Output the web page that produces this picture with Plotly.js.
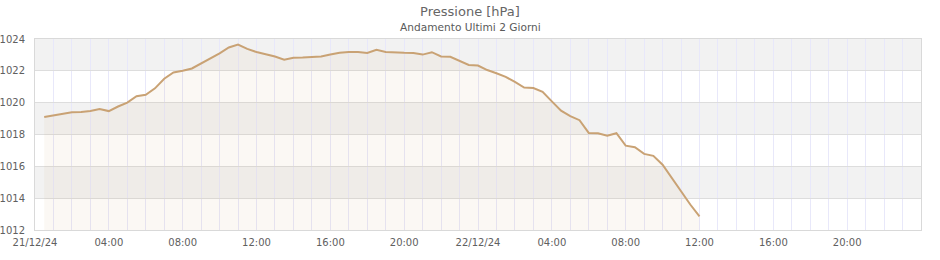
<!DOCTYPE html>
<html>
<head>
<meta charset="utf-8">
<script src="https://cdn.plot.ly/plotly-3.0.1.min.js"></script>
<style>html,body{margin:0;padding:0;background:#fff}#chart{width:940px;height:260px}</style>
</head>
<body>
<div id="chart"></div>
<script>
const times = [
 "2024-12-21 00:30","2024-12-21 01:00","2024-12-21 01:30","2024-12-21 02:00","2024-12-21 02:30","2024-12-21 03:00",
 "2024-12-21 03:30","2024-12-21 04:00","2024-12-21 04:30","2024-12-21 05:00","2024-12-21 05:30","2024-12-21 06:00",
 "2024-12-21 06:30","2024-12-21 07:00","2024-12-21 07:30","2024-12-21 08:00","2024-12-21 08:30","2024-12-21 09:00",
 "2024-12-21 09:30","2024-12-21 10:00","2024-12-21 10:30","2024-12-21 11:00","2024-12-21 11:30","2024-12-21 12:00",
 "2024-12-21 12:30","2024-12-21 13:00","2024-12-21 13:30","2024-12-21 14:00","2024-12-21 14:30","2024-12-21 15:00",
 "2024-12-21 15:30","2024-12-21 16:00","2024-12-21 16:30","2024-12-21 17:00","2024-12-21 17:30","2024-12-21 18:00",
 "2024-12-21 18:30","2024-12-21 19:00","2024-12-21 19:30","2024-12-21 20:00","2024-12-21 20:30","2024-12-21 21:00",
 "2024-12-21 21:30","2024-12-21 22:00","2024-12-21 22:30","2024-12-21 23:00","2024-12-21 23:30","2024-12-22 00:00",
 "2024-12-22 00:30","2024-12-22 01:00","2024-12-22 01:30","2024-12-22 02:00","2024-12-22 02:30","2024-12-22 03:00",
 "2024-12-22 03:30","2024-12-22 04:00","2024-12-22 04:30","2024-12-22 05:00","2024-12-22 05:30","2024-12-22 06:00",
 "2024-12-22 06:30","2024-12-22 07:00","2024-12-22 07:30","2024-12-22 08:00","2024-12-22 08:30","2024-12-22 09:00",
 "2024-12-22 09:30","2024-12-22 10:00","2024-12-22 10:30","2024-12-22 11:00","2024-12-22 11:30","2024-12-22 12:00"
];
const pressure = [
 1019.10,1019.20,1019.30,1019.40,1019.42,1019.48,
 1019.60,1019.47,1019.76,1020.00,1020.40,1020.50,
 1020.90,1021.50,1021.90,1022.00,1022.15,1022.45,
 1022.80,1023.10,1023.47,1023.65,1023.38,1023.18,
 1023.04,1022.90,1022.70,1022.82,1022.83,1022.86,
 1022.90,1023.02,1023.14,1023.19,1023.19,1023.12,
 1023.32,1023.19,1023.15,1023.13,1023.12,1023.02,
 1023.17,1022.90,1022.88,1022.65,1022.37,1022.33,
 1022.05,1021.85,1021.62,1021.30,1020.95,1020.92,
 1020.68,1020.08,1019.50,1019.16,1018.90,1018.10,
 1018.08,1017.92,1018.08,1017.30,1017.20,1016.78,
 1016.66,1016.10,1015.27,1014.42,1013.60,1012.85
];
const tickVals = [
 "2024-12-21 00:00","2024-12-21 04:00","2024-12-21 08:00","2024-12-21 12:00","2024-12-21 16:00","2024-12-21 20:00",
 "2024-12-22 00:00","2024-12-22 04:00","2024-12-22 08:00","2024-12-22 12:00","2024-12-22 16:00","2024-12-22 20:00"
];
const tickText = ["21/12/24","04:00","08:00","12:00","16:00","20:00","22/12/24","04:00","08:00","12:00","16:00","20:00"];
const bandStarts = [1014, 1018, 1022];
const bandWidth = 2;

const shapes = bandStarts.map(b => ({
  type: 'rect', xref: 'paper', yref: 'y', x0: 0, x1: 1, y0: b, y1: b + bandWidth,
  fillcolor: '#f2f2f2', line: {width: 0}, layer: 'below'
}));

const trace = {
  x: times, y: pressure, type: 'scatter', mode: 'lines',
  line: {color: '#c9a274', width: 2},
  fill: 'tozeroy', fillcolor: 'rgba(201,162,116,0.08)',
  hoverinfo: 'skip'
};

const layout = {
  width: 940, height: 260,
  margin: {l: 35, r: 19, t: 39, b: 30},
  paper_bgcolor: '#ffffff', plot_bgcolor: 'rgba(0,0,0,0)',
  showlegend: false,
  font: {family: 'DejaVu Sans', size: 10, color: '#606060'},
  title: {text: 'Pressione [hPa]', font: {family: 'DejaVu Sans', size: 13, color: '#666666'},
          x: 0.5, xref: 'container', xanchor: 'center', y: 1 - 11/260, yref: 'container', yanchor: 'middle'},
  annotations: [{
    text: 'Andamento Ultimi 2 Giorni', xref: 'paper', yref: 'paper',
    x: (470 - 35) / 886, y: 1, xanchor: 'center', yanchor: 'middle', yshift: 12.5,
    showarrow: false, font: {family: 'DejaVu Sans', size: 10.6, color: '#5a5a5a'}
  }],
  shapes: shapes,
  xaxis: {
    type: 'date', range: ['2024-12-21 00:00', '2024-12-23 00:00'],
    tickmode: 'array', tickvals: tickVals, ticktext: tickText,
    showgrid: true, gridcolor: '#e8e8fa', gridwidth: 1,
    minor: {dtick: 3600000, showgrid: true, gridcolor: '#e8e8fa', gridwidth: 1},
    showline: true, linecolor: '#d9d9d9', linewidth: 1, mirror: true,
    ticks: 'outside', ticklen: 3, tickcolor: 'rgba(0,0,0,0)',
    zeroline: false, fixedrange: true,
    tickfont: {family: 'DejaVu Sans', size: 10, color: '#606060'}
  },
  yaxis: {
    range: [1012, 1024], tickmode: 'linear', tick0: 1012, dtick: 2,
    showgrid: true, gridcolor: '#dddddd', gridwidth: 1,
    showline: true, linecolor: '#d9d9d9', linewidth: 1, mirror: true,
    ticks: 'outside', ticklen: 7, tickcolor: 'rgba(0,0,0,0)',
    zeroline: false, fixedrange: true,
    tickfont: {family: 'DejaVu Sans', size: 10, color: '#606060'}
  }
};

Plotly.newPlot('chart', [trace], layout, {displayModeBar: false, staticPlot: true});
</script>
</body>
</html>
